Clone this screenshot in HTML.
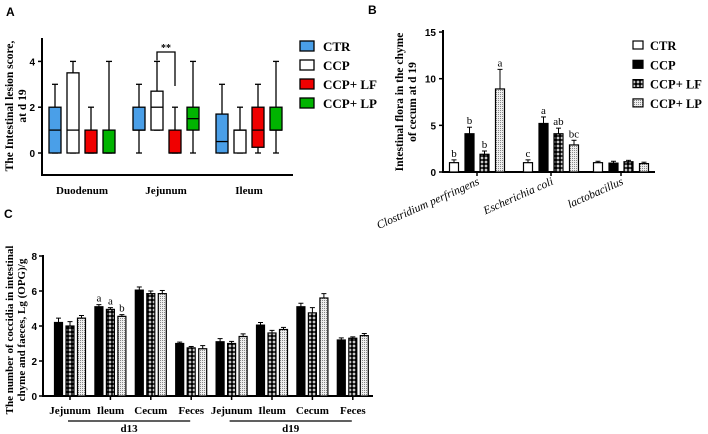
<!DOCTYPE html>
<html><head><meta charset="utf-8"><style>
html,body{margin:0;padding:0;background:#fff;}
svg{display:block;font-family:"Liberation Serif",serif;}
.tk{font-family:"Liberation Sans",sans-serif;font-weight:bold;font-size:10px;}
.lb{font-weight:bold;font-size:11px;}
</style></head><body>
<svg id="fig" width="708" height="434" viewBox="0 0 708 434">
<defs>
<pattern id="pLF" width="4" height="4" patternUnits="userSpaceOnUse"><rect width="4" height="4" fill="#000"/><path d="M2 0.6V3.4M0.6 2H3.4" stroke="#fff" stroke-width="1.1"/></pattern>
<pattern id="pLP" width="2" height="2" patternUnits="userSpaceOnUse"><rect width="2" height="2" fill="#eee"/><rect width="1" height="1" fill="#888"/></pattern>
</defs>
<g id="A"></g>
<g id="B"></g>
<g id="C"></g>
</svg>
<script>
// ---- Panel A data ----
const aCategories = ["Duodenum","Jejunum","Ileum"];
const aSeries = ["CTR","CCP","CCP+ LF","CCP+ LP"];
// [min,q1,median,q3,max] per category per series
const aBoxes = [
  [[0,0,1,2,3],[0,0,1,3.5,4],[0,0,0,1,2],[0,0,0,1,4]],
  [[0,1,1,2,3],[1,1,2,2.7,4],[0,0,0,1,2],[0,1,1.5,2,4]],
  [[0,0,0.5,1.7,3],[0,0,1,1,2],[0,0.25,1,2,3],[0,1,1,2,4]]
];
const aTicks = [0,2,4];
// ---- Panel B data ----
const bCategories = ["Clostridium perfringens","Escherichia coli","lactobacillus"];
const bSeries = ["CTR","CCP","CCP+ LF","CCP+ LP"];
const bValues = [[1.0,4.1,1.9,8.9],[1.0,5.2,4.1,2.9],[1.0,0.95,1.1,0.9]];
const bErrors = [[0.3,0.7,0.35,2.1],[0.3,0.7,0.6,0.5],[0.15,0.2,0.15,0.15]];
const bLetters = [["b","b","b","a"],["c","a","ab","bc"],["","","",""]];
const bTicks = [0,5,10,15];
// ---- Panel C data ----
const cCategories = ["Jejunum","Ileum","Cecum","Feces","Jejunum","Ileum","Cecum","Feces"];
const cDays = ["d13","d19"];
const cValues = [[4.2,4.0,4.45],[5.1,4.95,4.55],[6.05,5.85,5.85],[3.0,2.75,2.7],[3.1,3.0,3.4],[4.05,3.6,3.8],[5.1,4.75,5.6],[3.2,3.3,3.45]];
const cErrors = [[0.25,0.25,0.15],[0.12,0.1,0.1],[0.18,0.15,0.18],[0.08,0.08,0.18],[0.18,0.12,0.15],[0.15,0.15,0.12],[0.2,0.3,0.25],[0.12,0.08,0.12]];
const cLetters = [["","",""],["a","a","b"],["","",""],["","",""],["","",""],["","",""],["","",""],["","",""]];
const cTicks = [0,2,4,6,8];

const NS="http://www.w3.org/2000/svg";
function mk(parent,tag,attrs,text){const e=document.createElementNS(NS,tag);for(const k in attrs)e.setAttribute(k,attrs[k]);if(text!==undefined)e.textContent=text;parent.appendChild(e);return e;}

// ===== Panel A =====
(function(){
const g=document.getElementById('A');
const yA=v=>153-v*22.9;
const groupX=[82,166,249], off=[-27,-9,9,27], bw=12;
const fills=["#4a9fe8","#fff","#f00000","#00b400"];
let t=mk(g,'text',{x:6,y:16,'font-family':'Liberation Sans','font-weight':'bold','font-size':12});t.textContent='A';

let ax=mk(g,'path',{d:`M42 38V175H293`,fill:'none',stroke:'#000','stroke-width':2});

aTicks.forEach(v=>{mk(g,'line',{x1:38,x2:42,y1:yA(v),y2:yA(v),stroke:'#000','stroke-width':1.5});
 let l=mk(g,'text',{x:35,y:yA(v)+4,'text-anchor':'end',class:'tk'},v);
 });
aCategories.forEach((c,i)=>{
 let l=mk(g,'text',{x:groupX[i],y:194,'text-anchor':'middle',class:'lb'},c);
 
 aBoxes[i].forEach((b,s)=>{const x=groupX[i]+off[s];
  const bx=mk(g,'g',{});
  
  mk(bx,'line',{x1:x,x2:x,y1:yA(b[4]),y2:yA(b[0]),stroke:'#000','stroke-width':1.3});
  mk(bx,'line',{x1:x-3,x2:x+3,y1:yA(b[4]),y2:yA(b[4]),stroke:'#000','stroke-width':1.3});
  mk(bx,'line',{x1:x-3,x2:x+3,y1:yA(b[0]),y2:yA(b[0]),stroke:'#000','stroke-width':1.3});
  mk(bx,'rect',{x:x-bw/2,y:yA(b[3]),width:bw,height:Math.max(yA(b[1])-yA(b[3]),0.5),fill:fills[s],stroke:'#000','stroke-width':1.3});
  mk(bx,'line',{x1:x-bw/2,x2:x+bw/2,y1:yA(b[2]),y2:yA(b[2]),stroke:'#000','stroke-width':1.3});
 });
});
const x1=groupX[1]+off[1], x2=groupX[1]+off[2];
let br=mk(g,'path',{d:`M${x1} ${yA(4)-1}V52H${x2}V86`,fill:'none',stroke:'#000','stroke-width':1.3});

let st=mk(g,'text',{x:(x1+x2)/2,y:51,'text-anchor':'middle','font-weight':'bold','font-size':10},'**');

let yt=mk(g,'text',{transform:'translate(13,106) rotate(-90)','text-anchor':'middle','font-weight':'bold','font-size':11.5});

mk(yt,'tspan',{x:0,dy:0},'The Intestinal lesion score,');mk(yt,'tspan',{x:0,dy:13},'at d 19');
aSeries.forEach((s,i)=>{const y=46+i*19;
 const le=mk(g,'g',{});
 mk(le,'rect',{x:300,y:y-5,width:14,height:10,fill:fills[i],stroke:'#000','stroke-width':1.3});
 mk(le,'text',{x:323,y:y+5,'font-weight':'bold','font-size':13},s);});
})();

// ===== Panel B =====
(function(){
const g=document.getElementById('B');
const yB=v=>172-v*9.33;
const groupX=[477,551,621], off=[-23,-7.5,7.5,23], bw=9;
const fills=["#fff","#000","url(#pLF)","url(#pLP)"];
let t=mk(g,'text',{x:368,y:14,'font-family':'Liberation Sans','font-weight':'bold','font-size':12},'B');

let ax=mk(g,'path',{d:`M443 30V172H655`,fill:'none',stroke:'#000','stroke-width':2});

bTicks.forEach(v=>{mk(g,'line',{x1:439,x2:443,y1:yB(v),y2:yB(v),stroke:'#000','stroke-width':1.5});
 let l=mk(g,'text',{x:436,y:yB(v)+4,'text-anchor':'end',class:'tk'},v);
 });
bCategories.forEach((c,i)=>{
 mk(g,'line',{x1:groupX[i],x2:groupX[i],y1:172,y2:176,stroke:'#000','stroke-width':1.5});
 let l=mk(g,'text',{transform:`translate(${groupX[i]+3},${184}) rotate(-24)`,'text-anchor':'end','font-style':'italic','font-size':11.5},c);
 
 bValues[i].forEach((v,s)=>{const x=groupX[i]+off[s], e=bErrors[i][s];
  mk(g,'line',{x1:x,x2:x,y1:yB(v),y2:yB(v+e),stroke:'#000','stroke-width':1});
  mk(g,'line',{x1:x-2.5,x2:x+2.5,y1:yB(v+e),y2:yB(v+e),stroke:'#000','stroke-width':1});
  const r=mk(g,'rect',{x:x-bw/2,y:yB(v),width:bw,height:172-yB(v),fill:fills[s],stroke:'#000','stroke-width':1.2});
  
  if(bLetters[i][s]){let lt=mk(g,'text',{x:x,y:yB(v+e)-3,'text-anchor':'middle','font-size':11},bLetters[i][s]);
   }
 });
});
let yt=mk(g,'text',{transform:'translate(403,102) rotate(-90)','text-anchor':'middle','font-weight':'bold','font-size':11.5});

mk(yt,'tspan',{x:0,dy:0},'Intestinal flora in the chyme');mk(yt,'tspan',{x:0,dy:13},'of cecum at d 19');
bSeries.forEach((s,i)=>{const y=45+i*19.3;
 const le=mk(g,'g',{});
 mk(le,'rect',{x:633,y:y-4,width:10,height:8,fill:fills[i],stroke:'#000','stroke-width':1.2});
 mk(le,'text',{x:650,y:y+5,'font-weight':'bold','font-size':12.5},s);});
})();

// ===== Panel C =====
(function(){
const g=document.getElementById('C');
const yC=v=>396-v*17.5;
const gx=i=>70+i*40.4, off=[-11.5,0,11.5], bw=8;
const fills=["#000","url(#pLF)","url(#pLP)"];
let t=mk(g,'text',{x:4,y:218,'font-family':'Liberation Sans','font-weight':'bold','font-size':12},'C');

let ax=mk(g,'path',{d:`M43 255V396H373`,fill:'none',stroke:'#000','stroke-width':2});

cTicks.forEach(v=>{mk(g,'line',{x1:39,x2:43,y1:yC(v),y2:yC(v),stroke:'#000','stroke-width':1.5});
 let l=mk(g,'text',{x:37,y:yC(v)+4,'text-anchor':'end',class:'tk'},v);
 });
cCategories.forEach((c,i)=>{const cx=gx(i);
 mk(g,'line',{x1:cx,x2:cx,y1:396,y2:400,stroke:'#000','stroke-width':1.5});
 let l=mk(g,'text',{x:cx,y:414,'text-anchor':'middle',class:'lb'},c);
 
 cValues[i].forEach((v,s)=>{const x=cx+off[s], e=cErrors[i][s];
  mk(g,'line',{x1:x,x2:x,y1:yC(v),y2:yC(v+e),stroke:'#000','stroke-width':1});
  mk(g,'line',{x1:x-2.5,x2:x+2.5,y1:yC(v+e),y2:yC(v+e),stroke:'#000','stroke-width':1});
  const r=mk(g,'rect',{x:x-bw/2,y:yC(v),width:bw,height:396-yC(v),fill:fills[s],stroke:'#000','stroke-width':1.2});
  
  if(cLetters[i][s]){let lt=mk(g,'text',{x:x,y:yC(v+e)-3,'text-anchor':'middle','font-size':11},cLetters[i][s]);
   }
 });
});
cDays.forEach((d,k)=>{const a=gx(k*4)-2, b=gx(k*4+3)-1;
 const dg=mk(g,'g',{});
 mk(dg,'line',{x1:a,x2:b,y1:421,y2:421,stroke:'#000','stroke-width':1.3});
 mk(dg,'text',{x:(a+b)/2,y:432,'text-anchor':'middle',class:'lb'},d);});
let yt=mk(g,'text',{transform:'translate(13,330) rotate(-90)','text-anchor':'middle','font-weight':'bold','font-size':11});

mk(yt,'tspan',{x:0,dy:0},'The number of coccidia in intestinal');mk(yt,'tspan',{x:0,dy:12},'chyme and faeces, Lg (OPG)/g');
})();
</script>
</body></html>
